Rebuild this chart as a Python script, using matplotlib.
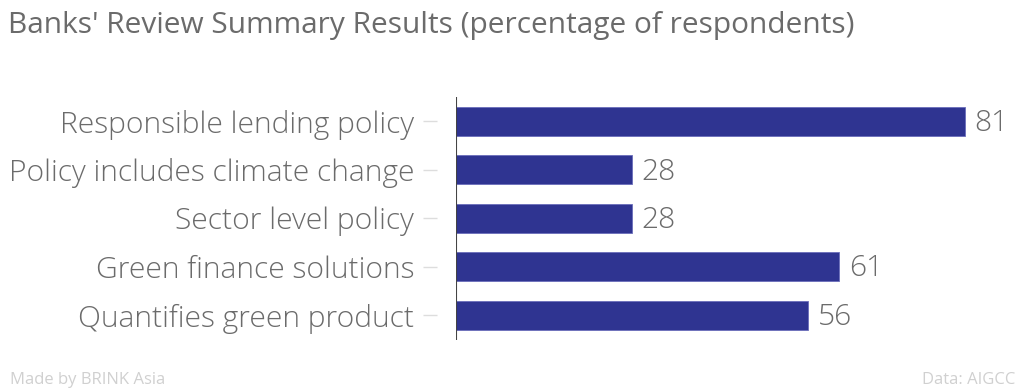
import matplotlib
matplotlib.use("Agg")
import matplotlib.pyplot as plt
from matplotlib.transforms import offset_copy

categories = [
    "Responsible lending policy",
    "Policy includes climate change",
    "Sector level policy",
    "Green finance solutions",
    "Quantifies green product",
]
values = [81, 28, 28, 61, 56]

plt.rcParams["font.family"] = ["Open Sans", "DejaVu Sans"]

BAR_COLOR = "#2f3491"
TEXT_COLOR = "#6b6b6b"

fig = plt.figure(figsize=(10.24, 3.92), dpi=100)
ax = fig.add_axes([456 / 1024, 1 - 339.5 / 392, (1000 - 456) / 1024, 242.5 / 392])

ypos = list(range(len(categories)))
ax.barh(ypos, values, height=0.6, color=BAR_COLOR, edgecolor="#6a6dbb", linewidth=0.6)
ax.set_xlim(0, (1000 - 456) / 6.28)
ax.set_ylim(4.5, -0.5)

for s in ["top", "right", "bottom"]:
    ax.spines[s].set_visible(False)
ax.spines["left"].set_position(("outward", 14))
ax.spines["left"].set_visible(False)
ax.axvline(0, color="#444444", linewidth=1.5)

ax.set_xticks([])
ax.set_yticks(ypos)
ax.set_yticklabels(categories, fontsize=21.6, color=TEXT_COLOR, fontweight="light")
ax.tick_params(axis="y", length=10, width=1, color="#dddddd", pad=6)

for y, v in zip(ypos, values):
    tr = offset_copy(ax.transData, fig=fig, x=10, y=-2, units="dots")
    ax.text(v, y, str(v), transform=tr, ha="left", va="center",
            fontsize=21.6, color=TEXT_COLOR, fontweight="light")

fig.text(8 / 1024, 1 - 25 / 392, "Banks' Review Summary Results (percentage of respondents)",
         fontsize=21.5, color=TEXT_COLOR, ha="left", va="center")
fig.text(10 / 1024, 1 - 380 / 392, "Made by BRINK Asia", fontsize=12,
         color="#d0d0d0", ha="left", va="center")
fig.text(1015 / 1024, 1 - 380 / 392, "Data: AIGCC", fontsize=12,
         color="#d0d0d0", ha="right", va="center")

fig.savefig("out.png", dpi=100)
